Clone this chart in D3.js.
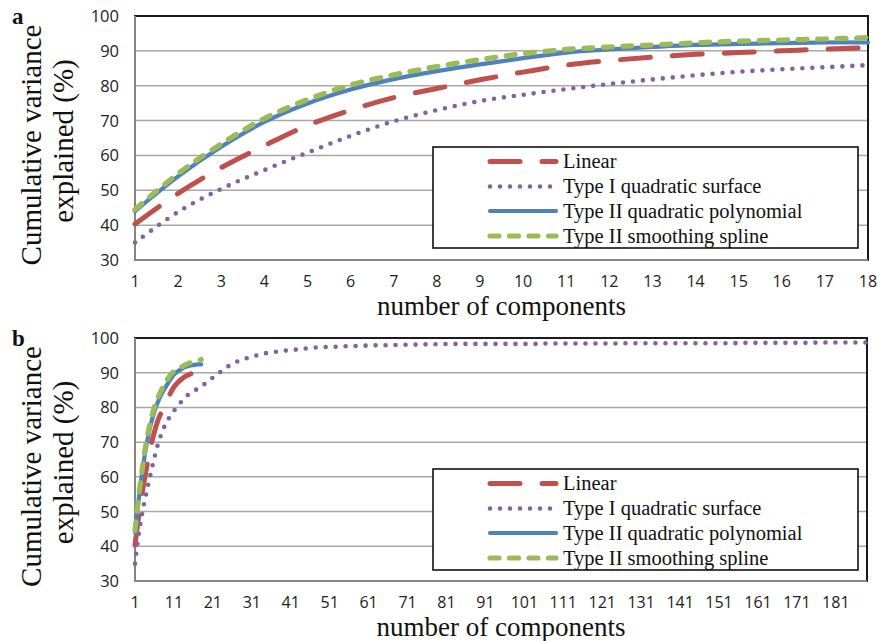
<!DOCTYPE html>
<html>
<head>
<meta charset="utf-8">
<script src="https://cdn.jsdelivr.net/npm/d3@7"></script>
<style>
  body { margin: 0; background: #fff; }
  svg { display: block; }
</style>
</head>
<body>
<script>
// values
const componentsA = [1, 2, 3, 4, 5, 6, 7, 8, 9, 10, 11, 12, 13, 14, 15, 16, 17, 18]
const componentsB = d3.range(1, 190)
const ticksA = [1, 2, 3, 4, 5, 6, 7, 8, 9, 10, 11, 12, 13, 14, 15, 16, 17, 18]
const ticksB = [1, 11, 21, 31, 41, 51, 61, 71, 81, 91, 101, 111, 121, 131, 141, 151, 161, 171, 181]
const yTicks = [30, 40, 50, 60, 70, 80, 90, 100]

const linear = [40.3, 49.1, 56.5, 62.8, 68.6, 73.0, 76.6, 79.2, 81.7, 83.9, 85.9, 87.2, 88.2, 89.0, 89.5, 90.0, 90.5, 90.9]
const typeIIPoly = [44.0, 54.0, 62.5, 69.6, 74.9, 78.9, 81.9, 84.2, 86.1, 87.9, 89.5, 90.4, 91.1, 91.7, 92.0, 92.2, 92.4, 92.4]
const typeIISpline = [44.5, 54.8, 63.3, 70.6, 76.0, 80.2, 83.1, 85.5, 87.5, 89.2, 90.4, 91.1, 91.7, 92.3, 92.8, 93.1, 93.4, 93.8]
// type I goes on to 189 components in panel b
const typeIQuad = [
  35.0, 43.8, 50.4, 55.8, 60.8, 65.6, 69.8, 73.0, 75.6, 77.4, 79.0, 80.5, 81.8, 83.0, 84.0, 84.7, 85.3, 85.9,
  86.9, 87.8, 88.6, 89.4, 90.3, 91.1, 91.9, 92.6, 93.1, 93.5, 93.9, 94.3,
  94.6, 94.9, 95.2, 95.5, 95.7, 95.9, 96.0, 96.1, 96.3, 96.4,
  96.5, 96.6, 96.8, 96.9, 97.0, 97.1, 97.2, 97.3, 97.3, 97.4,
  97.4, 97.5, 97.5, 97.6, 97.6, 97.7, 97.7, 97.7, 97.8, 97.8,
  97.8, 97.8, 97.9, 97.9, 97.9, 97.9, 98.0, 98.0, 98.0, 98.0,
  98.1, 98.1, 98.1, 98.1, 98.1, 98.2, 98.2, 98.2, 98.2, 98.2,
  98.3, 98.3, 98.3, 98.3, 98.3, 98.3, 98.3, 98.3, 98.3, 98.3,
  98.3, 98.3, 98.3, 98.3, 98.3, 98.3, 98.3, 98.3, 98.3, 98.3,
  98.3, 98.3, 98.3, 98.3, 98.3, 98.4, 98.4, 98.4, 98.4, 98.4,
  98.4, 98.4, 98.4, 98.4, 98.4, 98.4, 98.4, 98.4, 98.4, 98.4,
  98.4, 98.4, 98.4, 98.4, 98.4, 98.5, 98.5, 98.5, 98.5, 98.5,
  98.5, 98.5, 98.5, 98.5, 98.5, 98.5, 98.5, 98.5, 98.5, 98.5,
  98.5, 98.5, 98.5, 98.5, 98.5, 98.5, 98.5, 98.5, 98.5, 98.5,
  98.5, 98.5, 98.5, 98.5, 98.5, 98.6, 98.6, 98.6, 98.6, 98.6,
  98.6, 98.6, 98.6, 98.6, 98.6, 98.6, 98.6, 98.6, 98.6, 98.6,
  98.6, 98.6, 98.6, 98.6, 98.6, 98.7, 98.7, 98.7, 98.7, 98.7,
  98.7, 98.7, 98.7, 98.7, 98.7, 98.7, 98.7, 98.7, 98.7
]

const seriesNames = ["Linear", "Type I quadratic surface", "Type II quadratic polynomial", "Type II smoothing spline"]
const seriesColors = ["#c0504d", "#8064a2", "#4f81bd", "#9bbb59"]
const seriesDash = ["30,22", "0,10", null, "9,10.5"]
const seriesWidth = [5, 4.6, 4.2, 5.2]

const serif = "'Liberation Serif', 'Times New Roman', serif"
const sans = "'Open Sans', 'Liberation Sans', sans-serif"

const svg = d3.select("body").append("svg")
  .attr("width", 878)
  .attr("height", 641)

function drawPanel(p) {
  const g = svg.append("g")
  let x = d3.scalePoint().domain(p.cats).range([p.left, p.right])
  let y = d3.scaleLinear().domain([30, 100]).range([p.bottom, p.top])

  // grid
  g.selectAll("line.grid")
    .data(yTicks.slice(1, -1))
    .join("line")
    .attr("class", "grid")
    .attr("x1", p.left).attr("x2", p.right)
    .attr("y1", d => y(d)).attr("y2", d => y(d))
    .attr("stroke", "#a8a8a8")
    .attr("stroke-width", 1.5)

  g.append("rect")
    .attr("x", p.left).attr("y", p.top)
    .attr("width", p.right - p.left).attr("height", p.bottom - p.top)
    .attr("fill", "none")
    .attr("stroke", "#1a1a1a")
    .attr("stroke-width", 2)
  g.append("path")
    .attr("d", `M${p.left},${p.top}V${p.bottom}H${p.right}`)
    .attr("fill", "none")
    .attr("stroke", "#858585")
    .attr("stroke-width", 2)

  // tick labels
  g.selectAll("text.ytick")
    .data(yTicks)
    .join("text")
    .attr("class", "ytick")
    .attr("x", p.left - 16)
    .attr("y", d => y(d))
    .attr("dy", "0.36em")
    .attr("text-anchor", "end")
    .style("font-family", sans)
    .style("font-size", "16.5px")
    .style("fill", "#222")
    .text(d => d)

  g.selectAll("text.xtick")
    .data(p.xticks)
    .join("text")
    .attr("class", "xtick")
    .attr("x", d => x(d))
    .attr("y", p.bottom + 21)
    .attr("dy", "0.36em")
    .attr("text-anchor", "middle")
    .style("font-family", sans)
    .style("font-size", "16px")
    .style("fill", "#222")
    .text(d => d)

  // lines
  const line = d3.line()
    .x((d, i) => x(p.cats[i]))
    .y(d => y(d))
    .curve(d3.curveCatmullRom.alpha(0.5))

  p.series.forEach((vals, k) => {
    g.append("path")
      .datum(vals)
      .attr("d", line)
      .attr("fill", "none")
      .attr("stroke", seriesColors[k])
      .attr("stroke-width", seriesWidth[k])
      .attr("stroke-linecap", "round")
      .attr("stroke-linejoin", "round")
      .attr("stroke-dasharray", seriesDash[k])
  })

  // legend
  const lg = g.append("g").attr("transform", `translate(433,${p.legendTop})`)
  lg.append("rect")
    .attr("width", 425).attr("height", 101)
    .attr("fill", "#fff")
    .attr("stroke", "#111")
    .attr("stroke-width", 1.6)
  const rows = [14.5, 39.5, 64, 89]
  seriesNames.forEach((name, k) => {
    lg.append("line")
      .attr("x1", 57).attr("x2", 123)
      .attr("y1", rows[k]).attr("y2", rows[k])
      .attr("stroke", seriesColors[k])
      .attr("stroke-width", seriesWidth[k])
      .attr("stroke-linecap", "round")
      .attr("stroke-dasharray", seriesDash[k])
    lg.append("text")
      .attr("x", 130)
      .attr("y", rows[k] + 6.6)
      .style("font-family", serif)
      .style("font-size", "20.5px")
      .style("fill", "#111")
      .text(name)
  })

  // titles
  const mid = (p.top + p.bottom) / 2
  g.append("text")
    .attr("transform", `translate(41,${mid + 7}) rotate(-90)`)
    .attr("text-anchor", "middle")
    .style("font-family", serif)
    .style("font-size", "29px")
    .style("fill", "#111")
    .text("Cumulative variance")
  g.append("text")
    .attr("transform", `translate(73,${mid + 3}) rotate(-90)`)
    .attr("text-anchor", "middle")
    .style("font-family", serif)
    .style("font-size", "29px")
    .style("fill", "#111")
    .text("explained (%)")
  g.append("text")
    .attr("x", (p.left + p.right) / 2)
    .attr("y", p.bottom + 55)
    .attr("text-anchor", "middle")
    .style("font-family", serif)
    .style("font-size", "27px")
    .style("fill", "#111")
    .text("number of components")

  g.append("text")
    .attr("x", 12)
    .attr("y", p.top + 8)
    .style("font-family", serif)
    .style("font-size", "23px")
    .style("font-weight", "bold")
    .style("fill", "#111")
    .text(p.label)
}

drawPanel({
  label: "a", top: 16, bottom: 260, left: 135, right: 868, legendTop: 147,
  cats: componentsA, xticks: ticksA,
  series: [linear, typeIQuad.slice(0, 18), typeIIPoly, typeIISpline]
})

drawPanel({
  label: "b", top: 338, bottom: 581, left: 135, right: 867, legendTop: 469,
  cats: componentsB, xticks: ticksB,
  series: [linear, typeIQuad, typeIIPoly, typeIISpline]
})
</script>
</body>
</html>
